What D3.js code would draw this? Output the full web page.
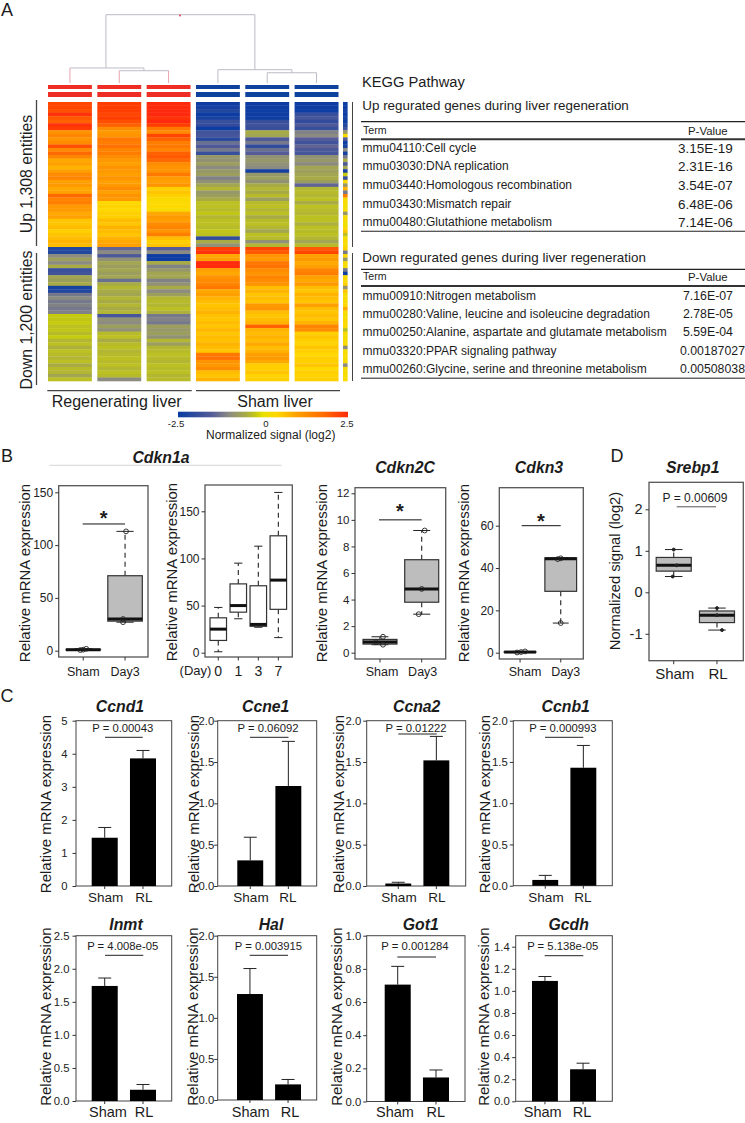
<!DOCTYPE html>
<html><head><meta charset="utf-8">
<style>html,body{margin:0;padding:0;background:#fff}svg{display:block}text{font-family:"Liberation Sans",Arial,sans-serif;fill:#1c1c1c}</style>
<script src="https://cdnjs.cloudflare.com/ajax/libs/d3/7.8.5/d3.min.js"></script>
</head><body><svg id="c" width="745" height="1123"></svg>
<script>
// ---------- HEATMAP DATA (normalized log2 signal, rows top to bottom) ----------
const heatUp1=[2.2,2.2,2.1,2.4,2.0,1.9,2.4,2.3,1.2,1.4,1.2,1.3,2.1,1.3,1.8,1.4,0.9,1.0,0.8,1.0,1.3,1.4,1.0,1.1,0.9,1.0,1.8,1.4,1.5,1.1,1.1,0.9,1.0,0.6,0.6,0.7,0.5,0.6,0.7,0.8,0.7];
const heatUp2=[2.3,2.3,2.3,2.2,2.3,2.1,1.9,1.3,1.1,1.2,1.6,1.5,1.7,1.4,1.5,1.3,1.1,1.0,1.2,1.1,1.0,1.2,1.0,1.1,1.3,1.0,1.2,1.1,0.4,0.45,0.4,0.5,0.5,0.7,0.6,0.8,0.7,0.6,0.8,0.9,1.0];
const heatUp3=[2.5,2.5,2.5,2.5,2.4,2.5,2.3,1.6,1.3,2.2,1.9,1.5,1.6,1.4,1.9,2.0,1.8,1.3,1.2,1.2,1.6,1.1,1.0,1.2,0.5,0.6,0.5,0.3,0.35,0.4,0.3,0.9,1.1,1.0,1.3,1.4,1.2,1.5,0.7,0.5,0.6];
const heatUp4=[-2.5,-2.4,-2.2,-2.5,-2.3,-1.9,-2.0,-2.5,-1.8,-1.7,-2.1,-1.3,-1.6,-1.2,-1.9,-0.8,-0.9,-0.7,-1.0,-0.8,-0.7,-1.1,-0.9,-0.6,-0.4,-0.8,-0.7,-0.5,-0.3,-0.3,-0.35,-0.25,-0.4,-0.3,-0.3,-0.35,-0.25,-0.3,-2.0,-0.5,-0.9];
const heatUp5=[-2.5,-2.5,-2.5,-2.5,-2.5,-1.9,-1.8,-1.9,-0.5,-0.6,-1.6,-1.2,-2.0,-1.3,-1.5,-0.9,-0.8,-0.9,-1.0,-2.4,-0.8,-0.7,-0.9,-0.5,-0.4,-0.5,-0.35,-0.7,-0.35,-0.3,-0.4,-0.3,-0.5,-0.35,-0.3,-0.4,-0.6,-0.3,-0.35,-0.9,-0.4];
const heatUp6=[-2.5,-2.5,-2.5,-1.9,-1.7,-2.0,-1.6,-1.9,-1.1,-1.0,-1.5,-1.8,-1.4,-1.6,-1.7,-0.9,-0.8,-1.0,-0.6,-0.7,-0.6,-0.5,-0.7,-1.4,-0.4,-0.35,-0.4,-0.3,-0.5,-0.3,-0.35,-0.4,-0.3,-0.3,-0.45,-0.3,-0.35,-0.3,-0.4,-0.6,-0.35];
const heatUp7=[-2.5,-2.5,-2.4,-2.5,-2.3,-2.5,-2.2,-1.8,-0.8,0.3,-1.5,-2.5,-2.3,-1.0,-2.4,-1.2,-0.5,-1.6,-0.6,-2.4,-0.2,-1.9,0.4,-0.8,0.8,-1.2,1.5,0.3,0.2,0.15,0.3,-0.8,0.2,0.25,0.1,0.3,0.6,-0.3,0.2,0.3,0.2];
const heatDown1=[-2.2,-2.2,-1.0,-0.7,-1.0,-0.5,-1.9,-1.8,-0.6,-0.7,-0.5,-2.3,-2.2,-1.2,-1.0,-1.2,-1.1,-1.2,-1.1,-0.2,-0.25,-0.2,-0.3,-0.25,-0.35,-0.2,-0.4,-0.3,-0.45,-0.3,-0.35,-0.4,-0.3,-0.5,-0.35,-0.4,-0.6,-0.3];
const heatDown2=[-1.4,-1.0,-1.6,-0.9,-0.6,-0.7,-0.6,-0.7,-0.6,-1.3,-0.5,-0.4,-0.5,-0.6,-0.4,-0.5,-0.4,-0.5,-0.4,-1.7,-0.9,-1.0,-0.7,-0.9,-0.35,-0.3,-0.5,-0.35,-0.3,-0.4,-0.35,-0.3,-0.35,-0.3,-0.4,-0.3,-0.35,-1.0];
const heatDown3=[-1.5,-1.0,-2.5,-2.5,-0.5,-1.1,-0.8,-0.6,-0.6,-1.1,-0.9,-0.5,-1.0,-0.7,-0.4,-0.35,-0.4,-0.3,-0.45,-1.2,-1.1,-1.2,-0.7,-0.8,-0.7,-0.9,-0.4,-0.7,-0.4,-0.35,-0.3,-0.35,-0.4,-0.3,-0.35,-0.3,-0.4,-0.35];
const heatDown4=[2.3,2.4,0.9,1.0,2.5,2.5,1.0,0.9,1.2,1.3,1.4,1.6,0.9,1.0,0.8,0.7,0.6,0.7,0.8,0.65,0.6,0.7,0.6,0.75,0.6,0.7,0.65,0.8,0.7,0.6,1.6,1.7,1.2,1.1,1.3,0.7,0.6,0.8];
const heatDown5=[2.2,2.0,1.2,1.1,1.6,1.7,1.3,1.2,1.4,1.3,1.2,0.7,0.8,0.6,0.7,0.6,1.1,1.2,0.7,0.6,0.7,0.8,1.9,0.8,0.7,0.8,0.7,0.9,0.7,0.8,1.0,1.1,0.9,0.5,0.5,0.6,0.45,0.5];
const heatDown6=[2.0,2.2,1.0,1.1,0.9,1.0,1.4,1.5,1.0,0.9,1.1,0.7,0.6,0.8,0.7,0.6,1.0,0.7,0.6,0.7,0.6,0.8,1.4,1.3,0.5,0.6,0.5,0.45,0.6,0.5,0.4,0.5,0.5,0.6,0.4,0.5,0.45,0.5];
const heatDown7=[0.5,-1.2,0.4,-0.8,0.3,0.2,-1.2,-2.5,0.4,0.3,0.5,-0.9,0.6,0.2,0.3,0.3,0.4,0.9,0.3,0.2,0.3,0.4,0.3,-0.3,0.3,0.2,0.2,0.3,-1.0,0.2,0.3,0.2,0.3,-1.0,0.2,0.3,0.2,0.3];
const heatUp=[heatUp1,heatUp2,heatUp3,heatUp4,heatUp5,heatUp6];
const heatDown=[heatDown1,heatDown2,heatDown3,heatDown4,heatDown5,heatDown6];
const colorValues=[-2.5,-1.5,-1,-0.5,-0.2,0,0.4,1,1.8,2.5];
const colorStops=["#0a3ca2","#565c98","#8b8b82","#a8ab45","#c6cb10","#e8e000","#ffd800","#ffa000","#ff6a00","#ff2a08"];
const groupColors=["#ee2d24","#0f429c"];
// dendrogram: merge heights
const dendLeaves=[0,1,2,3,4,5];
const dendMerges=[{a:1,b:2,h:0.18,id:6},{a:0,b:6,h:0.22,id:7},{a:4,b:5,h:0.15,id:8},{a:3,b:8,h:0.195,id:9},{a:7,b:9,h:1,id:10}];

// ---------- TABLES ----------
const upTerms=["mmu04110:Cell cycle","mmu03030:DNA replication","mmu03440:Homologous recombination","mmu03430:Mismatch repair","mmu00480:Glutathione metabolism"];
const upP=["3.15E-19","2.31E-16","3.54E-07","6.48E-06","7.14E-06"];
const downTerms=["mmu00910:Nitrogen metabolism","mmu00280:Valine, leucine and isoleucine degradation","mmu00250:Alanine, aspartate and glutamate metabolism","mmu03320:PPAR signaling pathway","mmu00260:Glycine, serine and threonine metabolism"];
const downP=["7.16E-07","2.78E-05","5.59E-04","0.00187027","0.00508038"];

// ---------- BOX PLOTS: [min,q1,median,q3,max] ----------
const cdkn1aDayLabels=["0","1","3","7"];
const cdkn1aDayBoxes=[[1,13,25,37,48],[36,43,50,73,95],[27,28,30,71,113],[16,46,77,124,170]];
const cdkn1aDayTicks=[0,50,100,150];
const boxGenes=["Cdkn1a","Cdkn2C","Cdkn3","Srebp1"];
const boxGroups=[["Sham","Day3"],["Sham","Day3"],["Sham","Day3"],["Sham","RL"]];
const boxStats=[
 [[0.6,0.8,1,1.3,1.8],[27,28,30,71,113]],
 [[0.6,0.65,0.8,1,1.2],[2.9,3.8,4.8,7,9.2]],
 [[0.1,0.2,0.3,0.45,0.6],[14,29,44.4,44.8,44.8]],
 [[0.38,0.51,0.65,0.84,1.03],[-0.91,-0.73,-0.55,-0.45,-0.38]]];
const boxPoints=[
 [[0.6,1,1.8],[113,30,27]],
 [[1.2,0.8,0.6],[9.2,4.8,2.9]],
 [[0.1,0.3,0.6],[14,44.2,44.6]],
 [[1.03,0.65,0.38],[-0.38,-0.55,-0.91]]];
const boxTicks=[[0,50,100,150],[0,2,4,6,8,10,12],[0,20,40,60],[-1,0,1,2]];
const boxSigLevel=[120,10,60,2.06];
const boxMarks=["*","*","*","P = 0.00609"];
// layout of the box plots (pixels): frame, band range, y calibration, group-line ends
const boxFrames=[[58.7,148,485.7,657],[355,445.7,487.7,659],[499.3,583.3,487.7,659],[649,743.3,482.3,660.7]];
const boxBands=[[66,142.3],[363,438.7],[504.2,576.6],[656.2,734.5]];
const boxPad=[0.175,0.185,0.22,0.19];
const boxCal=[[0,650.7,150,492.3],[0,652.7,12,493.3],[0,652.7,60,525.7],[0,592.3,2,509.3]];
const boxJitter=[[[-3,0,3],[1,-2,-2]],[[3,-4,3],[3,0,-3]],[[-3,1,5],[0,-3,0]],[[0,3,-1],[0,0,5]]];
const boxSigX=[[82.7,125],[379,421.7],[521.7,560.7],[676.7,716]];
const boxMarkPos=[[103.7,518],[400,511],[541,521],[695,497.3]];
const boxTitlePos=[[161,457.7],[405,467],[539,467],[692.7,467]];
const boxYTitleX=[25,321.7,463.3,615];
const boxLabelDx=[[0,0],[2,1],[5,5],[1,1]];
const boxTickFont=[12,11.5,12,14.5];

// ---------- BAR CHARTS ----------
const barGenes=["Ccnd1","Ccne1","Ccna2","Ccnb1","Inmt","Hal","Got1","Gcdh"];
const barGroups=["Sham","RL"];
const barShamMean=[1.46,0.31,0.03,0.07,1.74,1.29,0.705,1.09];
const barShamTop=[1.77,0.59,0.045,0.125,1.86,1.60,0.815,1.13];
const barRlMean=[3.86,1.21,1.52,1.43,0.17,0.19,0.145,0.29];
const barRlTop=[4.10,1.75,1.81,1.70,0.25,0.25,0.19,0.345];
const barP=["P = 0.00043","P = 0.06092","P = 0.01222","P = 0.000993","P = 4.008e-05","P = 0.003915","P = 0.001284","P = 5.138e-05"];
const barTicks=[[0,1,2,3,4,5],[0,0.5,1,1.5,2],[0,0.5,1,1.5,2],[0,0.5,1,1.5,2],[0,0.5,1,1.5,2,2.5],[0,0.5,1,1.5,2],[0,0.2,0.4,0.6,0.8,1],[0,0.2,0.4,0.6,0.8,1,1.2,1.4]];
const barDecimals=[0,1,1,1,1,1,1,1];
// layout of the bar charts (pixels)
const barFrames=[[76,171.7,720.7,886],[217.7,316.7,720.7,886],[366.7,465.7,720.7,886],[513.3,612.3,720.7,885.7],[76,171.7,935.7,1101],[217.7,316.7,935.7,1100],[366.7,465,935.7,1101.5],[515.7,612.3,935.7,1101.3]];
const barBands=[[91.7,156],[237.3,301.3],[385.3,449.3],[532.3,596.3],[91.7,156],[237,301],[384.7,449],[532,596]];
const barCal=[[0,886,5,720.7],[0,886,2,720.7],[0,886,2,720.7],[0,885.7,2,720.7],[0,1101,2.5,935.7],[0,1100,2,935.7],[0,1101.5,1,935.7],[0,1101.3,1.4,946.7]];
const barPadding=[5,0,2,2,3,0,2,2.5];
const barPTextX=[122.7,268,416,563,122.7,268.5,415,562.7];
const barPTextY=[728.3,728.3,728.3,728.3,946,946,946,946];
const barLine=[[105,142.7,737.3],[250,288.5,737.3],[398.3,436.7,734],[545,583.3,737.3],[105,143.3,955.3],[249.7,288,955.3],[397.3,436,957],[544.7,583.3,955.7]];
const barTitleXY=[[120,706.7],[265.7,706.7],[416.7,706.7],[565.7,706.7],[126,924],[271,924],[420.7,924],[568.7,924]];
const barYTitleX=[45.7,193.3,338.3,484.3,46,193,337,484];
const barXLabelX=[[105.7,144],[251,288],[399,437],[546,583],[108,144],[250.7,290],[395,435.7],[542.7,582]];

const svg=d3.select("#c");
function txt(x,y,s,size,o={}){
  const t=svg.append("text").attr("x",x).attr("y",y).attr("dy","0.35em").attr("font-size",size).attr("text-anchor",o.anchor||"middle").text(s);
  if(o.bold)t.attr("font-weight","bold");
  if(o.italic)t.attr("font-style","italic");
  if(o.rot)t.attr("transform",`rotate(${o.rot} ${x} ${y})`);
  if(o.fill)t.style("fill",o.fill);
  return t;
}
function ln(x1,y1,x2,y2,c,w,dash){
  const l=svg.append("line").attr("x1",x1).attr("y1",y1).attr("x2",x2).attr("y2",y2).attr("stroke",c).attr("stroke-width",w);
  if(dash)l.attr("stroke-dasharray",dash);
  return l;
}
function calibrated(c){return d3.scaleLinear().domain([c[0],c[2]]).range([c[1],c[3]]);}
function yAxis(x,y,ticks,fmt,pad,size){
  const g=svg.append("g").attr("transform",`translate(${x},0)`)
   .call(d3.axisLeft(y).tickValues(ticks).tickFormat(fmt).tickSize(3.5).tickPadding(pad));
  g.select(".domain").remove();
  g.selectAll(".tick line").attr("stroke","#333");
  g.selectAll(".tick text").attr("font-size",size).attr("font-family","Liberation Sans").style("fill","#222");
  return g;
}
function frame(f,c,w){svg.append("rect").attr("x",f[0]).attr("y",f[2]).attr("width",f[1]-f[0]).attr("height",f[3]-f[2]).attr("fill","none").attr("stroke",c).attr("stroke-width",w);}

// ---------- PANEL A ----------
txt(7,10,"A",18);
svg.append("defs").append("filter").attr("id","soft").attr("x","-2%").attr("y","-2%").attr("width","104%").attr("height","104%")
  .append("feGaussianBlur").attr("stdDeviation","0 0.6");
const hx=d3.scaleBand().domain(dendLeaves).range([48,338.5]).paddingInner(0.11);
const colour=d3.scaleLinear().domain(colorValues).range(colorStops).clamp(true);
function heatSection(cols,y0,y1){
  cols.forEach((vals,ci)=>{
    const ry=d3.scaleBand().domain(d3.range(vals.length)).range([y0,y1]);
    svg.append("g").attr("filter","url(#soft)").selectAll("rect").data(vals).join("rect")
      .attr("x",hx(ci)).attr("width",hx.bandwidth())
      .attr("y",(d,i)=>ry(i)).attr("height",ry.bandwidth()+0.3).attr("fill",d=>colour(d));
  });
}
function heatNarrow(vals,y0,y1){
  const ry=d3.scaleBand().domain(d3.range(vals.length)).range([y0,y1]);
  svg.append("g").attr("filter","url(#soft)").selectAll("rect").data(vals).join("rect")
    .attr("x",343).attr("width",4.6).attr("y",(d,i)=>ry(i)).attr("height",ry.bandwidth()+0.3).attr("fill",d=>colour(d));
}
heatSection(heatUp,102,247); heatSection(heatDown,247,381);
heatNarrow(heatUp7,102,247); heatNarrow(heatDown7,247,381);
dendLeaves.forEach(i=>{
  [[85,4],[92,5]].forEach(b=>svg.append("rect").attr("x",hx(i)).attr("width",hx.bandwidth()).attr("y",b[0]).attr("height",b[1]).attr("fill",groupColors[i<3?0:1]));
});
// dendrogram
const dendH=d3.scaleLinear().domain([0,1]).range([83,14.7]);
const nodeX={},nodeH={};
dendLeaves.forEach(i=>{nodeX[i]=hx(i)+hx.bandwidth()/2;nodeH[i]=0;});
dendMerges.forEach(m=>{
  const xa=nodeX[m.a],xb=nodeX[m.b];
  nodeX[m.id]=(xa+xb)/2+(m.id===7?-1:0);nodeH[m.id]=m.h;
  const ca=m.a<3?"#eaa4ae":"#bcbcc6",cb=(m.b<3)?"#eaa4ae":"#bcbcc6";
  ln(xa,dendH(m.h),xa,dendH(nodeH[m.a]),ca,1);
  ln(xb,dendH(m.h),xb,dendH(nodeH[m.b]),cb,1);
  ln(xa,dendH(m.h),xb,dendH(m.h),"#bcbcc6",1);
});
svg.append("circle").attr("cx",180).attr("cy",15.5).attr("r",0.9).attr("fill","#e03050");
txt(26,174,"Up 1,308 entities",15.8,{rot:-90});
txt(26,320,"Down 1,200 entities",15.8,{rot:-90});
ln(36.5,100,36.5,246,"#444",1.3);ln(36.5,253,36.5,385,"#444",1.3);
ln(352.5,102,352.5,247,"#444",1);ln(352.5,253,352.5,381,"#444",1);
ln(47.3,390.7,191.7,390.7,"#444",1.2);ln(196,390.7,340,390.7,"#444",1.2);
txt(116.7,401,"Regenerating liver",16);txt(275,401,"Sham liver",16);
// colour bar
const grad=svg.select("defs").append("linearGradient").attr("id","cb");
colorValues.forEach((v,i)=>grad.append("stop").attr("offset",(v+2.5)/5).attr("stop-color",colorStops[i]));
svg.append("rect").attr("x",178).attr("y",411.7).attr("width",170).attr("height",5.6).attr("fill","url(#cb)");
txt(176,423.2,"-2.5",9.6);txt(266,423.2,"0",9.6);txt(347,423.2,"2.5",9.6);
txt(270.7,435.2,"Normalized signal (log2)",12);
// tables
function table(y,title,terms,ps,o){
  txt(362.3,y.title,title,13.4,{anchor:"start"});
  ln(361,y.top,745,y.top,"#222",1.2);
  txt(363,y.head,"Term",10.6,{anchor:"start"});
  txt(688,y.head,"P-Value",11.4,{anchor:"start"});
  ln(361,y.mid,745,y.mid,"#333",2);
  terms.forEach((t,i)=>{
    txt(362.6,y.rows[i],t,12,{anchor:"start"});
    txt(o.px[i],y.rows[i]+(o.dy||0),ps[i],o.size,{anchor:"start"});
  });
  ln(361,y.bot,745,y.bot,y.botC,y.botW);
}
txt(362,82,"KEGG Pathway",14.7,{anchor:"start"});
table({title:105.7,top:121.7,head:130.7,mid:139.3,rows:[147.7,166,185,203.7,222],bot:231.3,botC:"#222",botW:1.1},"Up regurated genes during liver regeneration",upTerms,upP,{px:[678,678,678,678,678],size:13.5,dy:0.6});
table({title:257.3,top:269.3,head:276.7,mid:286,rows:[295.7,314,332,350.7,369],bot:378.3,botC:"#666",botW:1.6},"Down regurated genes during liver regeneration",downTerms,downP,{px:[683,683,683,680,680],size:12.3});

// ---------- PANEL B / D ----------
txt(7,455.7,"B",18);txt(617,455.7,"D",18);
ln(49.3,465.3,281.7,465.3,"#ccc",0.8);
function boxGlyph(x,w,capW,y,s,fill){
  const [mn,q1,med,q3,mx]=s;
  ln(x,y(q3),x,y(mx),"#222",1.1,"5 4");
  ln(x,y(q1),x,y(mn),"#222",1.1,"5 4");
  ln(x-capW/2,y(mx),x+capW/2,y(mx),"#222",1);
  ln(x-capW/2,y(mn),x+capW/2,y(mn),"#222",1);
  svg.append("rect").attr("x",x-w/2).attr("y",y(q3)).attr("width",w).attr("height",Math.max(0.5,y(q1)-y(q3))).attr("fill",fill).attr("stroke","#333").attr("stroke-width",1.2);
  ln(x-w/2,y(med),x+w/2,y(med),"#111",3);
}
boxGenes.forEach((gene,i)=>{
  const f=boxFrames[i],y=calibrated(boxCal[i]);
  const x=d3.scaleBand().domain(boxGroups[i]).range(boxBands[i]).paddingInner(boxPad[i]);
  const big=i===3;
  frame(f,"#555",1.3);
  yAxis(f[0],y,boxTicks[i],d=>String(d),big?3:2,boxTickFont[i]);
  boxGroups[i].forEach((g,j)=>{
    const cx=x(g)+x.bandwidth()/2;
    boxGlyph(cx,x.bandwidth(),x.bandwidth()*0.5,y,boxStats[i][j],"#bdbdbd");
    boxPoints[i][j].forEach((v,k)=>{
      svg.append("circle").attr("cx",cx+boxJitter[i][j][k]).attr("cy",y(v)).attr("r",big?1.5:2.4)
        .attr("fill",big?"#222":"none").attr("stroke","#222").attr("stroke-width",0.9);
    });
    ln(cx,f[3],cx,f[3]+3.5,"#333",1);
    txt(cx+boxLabelDx[i][j],big?674:672,g,big?15:12.5);
  });
  ln(boxSigX[i][0],y(boxSigLevel[i]),boxSigX[i][1],y(boxSigLevel[i]),big?"#555":"#111",1);
  if(big)txt(boxMarkPos[i][0],boxMarkPos[i][1],boxMarks[i],12);
  else txt(boxMarkPos[i][0],boxMarkPos[i][1],boxMarks[i],20,{bold:true});
  txt(boxTitlePos[i][0],boxTitlePos[i][1],gene,15.8,{bold:true,italic:true});
  txt(boxYTitleX[i],big?571:573,big?"Normalized signal (log2)":"Relative mRNA expression",big?14.7:15,{rot:-90});
});
// Cdkn1a time course
{
  const f=[205,292.3,485,657],y=calibrated([0,652.7,150,511.3]);
  const x=d3.scaleBand().domain(cdkn1aDayLabels).range([210,286.6]).paddingInner(0.175);
  frame(f,"#555",1.3);
  yAxis(f[0],y,cdkn1aDayTicks,d3.format("d"),2,12);
  cdkn1aDayLabels.forEach((d,i)=>{
    const cx=x(d)+x.bandwidth()/2;
    boxGlyph(cx,x.bandwidth(),x.bandwidth()*0.5,y,cdkn1aDayBoxes[i],"#fff");
    ln(cx,f[3],cx,f[3]+3.5,"#333",1);
    txt(cx,670.7,d,14);
  });
  txt(195.5,670,"(Day)",13);
  txt(171.7,572,"Relative mRNA expression",15,{rot:-90});
}

// ---------- PANEL C ----------
txt(7,695.7,"C",18);
barGenes.forEach((gene,i)=>{
  const f=barFrames[i],y=calibrated(barCal[i]);
  const x=d3.scaleBand().domain(barGroups).range(barBands[i]).paddingInner(0.32);
  frame(f,"#444",1);
  yAxis(f[0],y,barTicks[i],d3.format("."+barDecimals[i]+"f"),barPadding[i],11.3);
  const means=[barShamMean[i],barRlMean[i]],tops=[barShamTop[i],barRlTop[i]];
  barGroups.forEach((g,j)=>{
    const cx=x(g)+x.bandwidth()/2;
    ln(cx,y(means[j]),cx,y(tops[j]),"#222",1);
    ln(cx-6.5,y(tops[j]),cx+6.5,y(tops[j]),"#222",1);
    svg.append("rect").attr("x",x(g)).attr("width",x.bandwidth()).attr("y",y(means[j])).attr("height",y(0)-y(means[j])).attr("fill","#000");
    ln(cx,f[3],cx,f[3]+3,"#333",1);
    txt(barXLabelX[i][j],i<4?897:1112,g,i<4?13.5:14.5);
  });
  const b=barLine[i];
  ln(b[0],b[2],b[1],b[2],"#222",1);
  txt(barPTextX[i],barPTextY[i],barP[i],11.3);
  txt(barTitleXY[i][0],barTitleXY[i][1],gene,15.8,{bold:true,italic:true});
  txt(barYTitleX[i],i<4?804:1016.6,"Relative mRNA expression",15,{rot:-90});
});
</script></body></html>
